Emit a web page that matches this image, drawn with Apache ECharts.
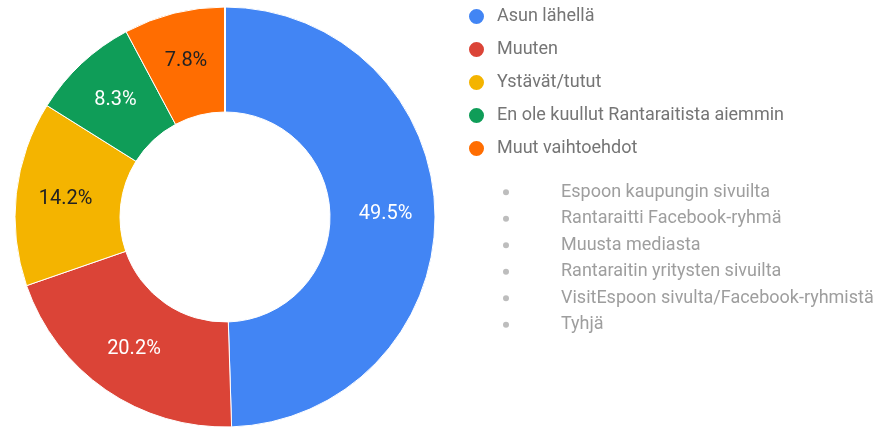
<!DOCTYPE html>
<html>
<head>
<meta charset="utf-8">
<script src="https://cdn.jsdelivr.net/npm/echarts@6/dist/echarts.min.js"></script>
<style>
  html, body { margin: 0; padding: 0; background: #fff; }
  #chart { width: 885px; height: 427px; }
</style>
</head>
<body>
<div id="chart"></div>
<script>
// answers with a share
const categories = ['Asun lähellä', 'Muuten', 'Ystävät/tutut', 'En ole kuullut Rantaraitista aiemmin', 'Muut vaihtoehdot']
const values = [49.5, 20.2, 14.2, 8.3, 7.8]
const colors = ['#4285f4', '#db4437', '#f4b400', '#0f9d58', '#ff6d01']
const labelColors = ['#ffffff', '#ffffff', '#222222', '#ffffff', '#222222']
// answers nobody picked
const emptyCategories = ['Espoon kaupungin sivuilta', 'Rantaraitti Facebook-ryhmä', 'Muusta mediasta',
  'Rantaraitin yritysten sivuilta', 'VisitEspoon sivulta/Facebook-ryhmistä', 'Tyhjä']
const emptyValues = [0, 0, 0, 0, 0, 0]

const chart = echarts.init(document.getElementById('chart'))

const data = categories.map((name, i) => ({
  name: name,
  value: values[i],
  itemStyle: { color: colors[i] },
  label: { color: labelColors[i] }
})).concat(emptyCategories.map((name, i) => ({
  name: name,
  value: emptyValues[i],
  itemStyle: { color: '#bdbdbd' },
  label: { show: false }
})))

chart.setOption({
  animation: false,
  textStyle: { fontFamily: 'Roboto' },
  legend: [
    {
      orient: 'vertical',
      left: 467,
      top: 7,
      padding: 0,
      icon: 'circle',
      itemWidth: 17,
      itemHeight: 17,
      itemGap: 14,
      data: categories,
      textStyle: { fontSize: 18, lineHeight: 19, color: '#757575', padding: [0, 0, 0, 7] }
    },
    {
      orient: 'vertical',
      left: 501,
      top: 182,
      padding: 0,
      icon: 'circle',
      itemWidth: 8,
      itemHeight: 8,
      itemGap: 6,
      selectedMode: false,
      data: emptyCategories,
      textStyle: { fontSize: 18, lineHeight: 20.5, color: '#9e9e9e', padding: [0, 0, 0, 46] }
    }
  ],
  series: [
    {
      type: 'pie',
      center: [225, 217],
      radius: [105, 210],
      startAngle: 90,
      clockwise: true,
      label: {
        position: 'inside',
        fontSize: 20,
        formatter: p => p.value.toFixed(1) + '%'
      },
      labelLine: { show: false },
      itemStyle: { borderColor: '#fff', borderWidth: 1 },
      emphasis: { scale: false },
      data: data
    }
  ]
})
</script>
</body>
</html>
